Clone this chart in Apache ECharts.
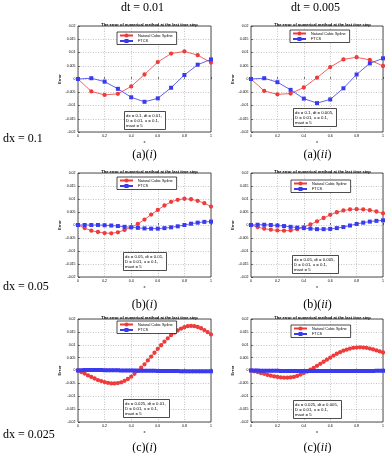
<!DOCTYPE html>
<html>
<head>
<meta charset="utf-8">
<script src="https://cdn.jsdelivr.net/npm/echarts@6/dist/echarts.min.js"></script>
<style>
html, body { margin: 0; padding: 0; background: #fff; }
#chart { width: 387px; height: 453px; }
</style>
</head>
<body>
<div id="chart"></div>
<script>
// grid points in x
var xCoarse = [0, 0.1, 0.2, 0.3, 0.4, 0.5, 0.6, 0.7, 0.8, 0.9, 1];
var xMid = [0, 0.05, 0.1, 0.15, 0.2, 0.25, 0.3, 0.35, 0.4, 0.45, 0.5,
	0.55, 0.6, 0.65, 0.7, 0.75, 0.8, 0.85, 0.9, 0.95, 1];
var xFine = [0, 0.025, 0.05, 0.075, 0.1, 0.125, 0.15, 0.175, 0.2, 0.225,
	0.25, 0.275, 0.3, 0.325, 0.35, 0.375, 0.4, 0.425, 0.45, 0.475,
	0.5, 0.525, 0.55, 0.575, 0.6, 0.625, 0.65, 0.675, 0.7, 0.725,
	0.75, 0.775, 0.8, 0.825, 0.85, 0.875, 0.9, 0.925, 0.95, 0.975, 1];

// dx = 0.1
var ncsA1 = [0, -0.0047, -0.006, -0.0056, -0.0028, 0.0017, 0.0064, 0.0096, 0.0104, 0.009, 0.0062];
var ftcsA1 = [0, 0.0003, -0.001, -0.0037, -0.0069, -0.0086, -0.0073, -0.0033, 0.0015, 0.0054, 0.0074];
var ncsA2 = [0, -0.0045, -0.0058, -0.0055, -0.0032, 0.0005, 0.0045, 0.0074, 0.0082, 0.0072, 0.0049];
var ftcsA2 = [0, 0.0003, -0.0012, -0.0041, -0.0074, -0.0091, -0.0077, -0.0035, 0.0017, 0.0059, 0.0078];

// dx = 0.05
var ncsB1 = [0, -0.0012, -0.0022, -0.0027, -0.0031, -0.0032, -0.0028, -0.0019, -0.0009, 0.0004, 0.0021,
	0.004, 0.0058, 0.0075, 0.0089, 0.0097, 0.0101, 0.0099, 0.0093, 0.0084, 0.0071];
var ftcsB1 = [0, 0, 0, 0, -0.0001, -0.0002, -0.0004, -0.0007, -0.0009, -0.0011, -0.0013,
	-0.0014, -0.0014, -0.0012, -0.0009, -0.0005, 0, 0.0005, 0.0009, 0.0012, 0.0013];
var ncsB2 = [0, -0.0008, -0.0014, -0.0018, -0.0021, -0.0022, -0.0021, -0.0016, -0.0008, 0.0002, 0.0014,
	0.0027, 0.0039, 0.0049, 0.0056, 0.006, 0.0061, 0.006, 0.0057, 0.0052, 0.0045];
var ftcsB2 = [0, 0.0001, 0.0001, 0, -0.0002, -0.0004, -0.0007, -0.001, -0.0012, -0.0014, -0.0016,
	-0.0016, -0.0015, -0.0012, -0.0008, -0.0002, 0.0004, 0.0009, 0.0013, 0.0016, 0.0018];

// dx = 0.025
var ncsC1 = [0, -0.0006, -0.0012, -0.0019, -0.0025, -0.0031, -0.0037, -0.0041, -0.0045, -0.0048,
	-0.005, -0.005, -0.0049, -0.0046, -0.004, -0.0033, -0.0024, -0.0013, -0.0001, 0.0011,
	0.0024, 0.0039, 0.0054, 0.0069, 0.0084, 0.0098, 0.0112, 0.0125, 0.0137, 0.0147,
	0.0156, 0.0163, 0.0168, 0.0172, 0.0173, 0.0172, 0.0169, 0.0164, 0.0157, 0.0149, 0.014];
var ftcsC1 = [0, 0.0001, 0.0002, 0.0002, 0.0002, 0.0002, 0.0002, 0.0002, 0.0001, 0.0001,
	0.0001, 0.0001, 0.0001, 0, 0, 0, 0, 0, -0.0001, -0.0001,
	-0.0001, -0.0001, -0.0001, -0.0001, -0.0002, -0.0002, -0.0002, -0.0002, -0.0002, -0.0002,
	-0.0002, -0.0003, -0.0003, -0.0003, -0.0003, -0.0003, -0.0003, -0.0003, -0.0003, -0.0003, -0.0003];
var ncsC2 = [0, -0.0003, -0.0006, -0.001, -0.0013, -0.0017, -0.002, -0.0023, -0.0025, -0.0027,
	-0.0028, -0.0028, -0.0027, -0.0025, -0.0021, -0.0016, -0.001, -0.0004, 0.0003, 0.001,
	0.0018, 0.0026, 0.0034, 0.0042, 0.005, 0.0058, 0.0065, 0.0071, 0.0077, 0.0081,
	0.0085, 0.0088, 0.0089, 0.009, 0.0089, 0.0088, 0.0085, 0.0082, 0.0078, 0.0074, 0.007];
var ftcsC2 = [0, 0, 0, -0.0001, -0.0001, -0.0001, -0.0001, -0.0001, -0.0001, -0.0002,
	-0.0002, -0.0002, -0.0002, -0.0002, -0.0002, -0.0002, -0.0002, -0.0002, -0.0002, -0.0002,
	-0.0002, -0.0002, -0.0002, -0.0002, -0.0002, -0.0002, -0.0002, -0.0002, -0.0002, -0.0002,
	-0.0002, -0.0002, -0.0002, -0.0002, -0.0002, -0.0002, -0.0002, -0.0002, -0.0001, -0.0001, -0.0001];

var seriesNames = ["Natural Cubic Spline", "FTCS"];
var plotTitle = "The error of numerical method at the last time step";
var dxLabels = ["0.1", "0.05", "0.025"];
var dtLabels = ["0.01", "0.005"];
var captionRows = ["a", "b", "c"];
var captionCols = ["i", "ii"];

function drawErrorGrid() {
	var panels = [
		{ row: 0, col: 0, x: xCoarse, ncs: ncsA1, ftcs: ftcsA1 },
		{ row: 0, col: 1, x: xCoarse, ncs: ncsA2, ftcs: ftcsA2 },
		{ row: 1, col: 0, x: xMid, ncs: ncsB1, ftcs: ftcsB1 },
		{ row: 1, col: 1, x: xMid, ncs: ncsB2, ftcs: ftcsB2 },
		{ row: 2, col: 0, x: xFine, ncs: ncsC1, ftcs: ftcsC1 },
		{ row: 2, col: 1, x: xFine, ncs: ncsC2, ftcs: ftcsC2 }
	];

	// layout (pixels)
	var gridLeft = [78, 251];
	var gridTop = [26, 173, 319];
	var gridH = [106, 104, 103];
	var gridW = 133;
	var legendPos = [[117, 32], [290, 30], [117, 177], [291, 180], [117, 321], [291, 325]];
	var boxPos = [[124, 111], [293, 108], [123, 252], [292, 255], [123, 399], [293, 400]];
	var captionY = [155, 305, 448];
	var dxY = [139, 287, 435];

	var RED = '#ee3a3a', BLUE = '#3a3aee';
	var FONT = 'Liberation Sans';
	var SERIF = 'Liberation Serif';

	function zip(xs, ys) {
		var out = [];
		for (var k = 0; k < xs.length; k++) out.push([xs[k], ys[k]]);
		return out;
	}

	var option = {
		animation: false,
		backgroundColor: '#fff',
		textStyle: { fontFamily: FONT },
		title: [], grid: [], xAxis: [], yAxis: [], legend: [], series: [], graphic: []
	};

	for (var i = 0; i < panels.length; i++) {
		var p = panels[i];
		var gl = gridLeft[p.col], gt = gridTop[p.row], gh = gridH[p.row];
		option.grid.push({
			left: gl, top: gt, width: gridW, height: gh,
			show: true, borderColor: '#000', borderWidth: 0.7, backgroundColor: '#fff'
		});
		option.xAxis.push({
			gridIndex: i, type: 'value', min: 0, max: 1, interval: 0.2,
			name: 'x', nameLocation: 'middle', nameGap: 8,
			nameTextStyle: { fontSize: 4, color: '#000' },
			axisLine: { show: false },
			axisTick: { inside: true, length: 2, lineStyle: { color: '#000', width: 0.5 } },
			axisLabel: { fontSize: 3.5, margin: 2.5, color: '#000' },
			splitLine: { show: true, lineStyle: { type: [1, 1.5], color: '#888', width: 0.5 } }
		});
		option.yAxis.push({
			gridIndex: i, type: 'value', min: -0.02, max: 0.02, interval: 0.005,
			name: 'Error', nameLocation: 'middle', nameGap: 13,
			nameTextStyle: { fontSize: 4, color: '#000', fontWeight: 'bold' },
			axisLine: { show: false },
			axisTick: { inside: true, length: 2, lineStyle: { color: '#000', width: 0.5 } },
			axisLabel: { fontSize: 3.5, margin: 2.5, color: '#000' },
			splitLine: { show: true, lineStyle: { type: [1, 1.5], color: '#888', width: 0.5 } }
		});
		option.title.push({
			text: plotTitle, left: gl + gridW / 2, top: gt - 8, textAlign: 'center',
			textStyle: { fontSize: 4, fontWeight: 'bold', color: '#000', fontFamily: FONT }
		});
		option.title.push({
			text: 'dx = ' + dxLabels[p.row] + ', dt = ' + dtLabels[p.col] + ',\nD = 0.01, u = 0.1,\nmaxt = 5',
			left: boxPos[i][0], top: boxPos[i][1],
			borderColor: '#000', borderWidth: 0.7, backgroundColor: '#fff',
			padding: [2, 4, 2, 2],
			textStyle: { fontSize: 4.3, fontWeight: 'normal', color: '#000', lineHeight: 5, fontFamily: FONT }
		});
		option.legend.push({
			left: legendPos[i][0], top: legendPos[i][1], orient: 'vertical',
			data: seriesNames, selectedMode: false,
			borderColor: '#000', borderWidth: 0.7, backgroundColor: '#fff',
			padding: [1.5, 4, 1.5, 2], itemGap: 1.5, itemWidth: 13, itemHeight: 2.5,
			textStyle: { fontSize: 3.8, color: '#000' }
		});
		option.series.push({
			type: 'line', name: seriesNames[0], xAxisIndex: i, yAxisIndex: i,
			data: zip(p.x, p.ncs), symbol: 'emptyCircle', symbolSize: 2.3,
			lineStyle: { color: RED, width: 0.8 },
			itemStyle: { color: RED, borderColor: RED, borderWidth: 0.5 }
		});
		option.series.push({
			type: 'line', name: seriesNames[1], xAxisIndex: i, yAxisIndex: i,
			data: zip(p.x, p.ftcs), symbol: 'emptyRect', symbolSize: 2,
			lineStyle: { color: BLUE, width: 0.8 },
			itemStyle: { color: BLUE, borderColor: BLUE, borderWidth: 0.5 }
		});
		option.graphic.push({
			type: 'text', x: gl + gridW / 2, y: captionY[p.row],
			style: {
				text: '(' + captionRows[p.row] + ')({it|' + captionCols[p.col] + '})',
				rich: { it: { fontStyle: 'italic', fontFamily: SERIF, fontSize: 12 } },
				fontFamily: SERIF, fontSize: 12, fill: '#000',
				align: 'center', verticalAlign: 'middle'
			}
		});
	}

	for (var c = 0; c < dtLabels.length; c++) {
		option.graphic.push({
			type: 'text', x: gridLeft[c] + gridW / 2 - 2, y: 8,
			style: { text: 'dt = ' + dtLabels[c], fontFamily: SERIF, fontSize: 12, fill: '#000', align: 'center', verticalAlign: 'middle' }
		});
	}
	for (var r = 0; r < dxLabels.length; r++) {
		option.graphic.push({
			type: 'text', x: 3, y: dxY[r],
			style: { text: 'dx = ' + dxLabels[r], fontFamily: SERIF, fontSize: 12, fill: '#000', align: 'left', verticalAlign: 'middle' }
		});
	}

	var myChart = echarts.init(document.getElementById('chart'));
	myChart.setOption(option);
}

drawErrorGrid();
</script>
</body>
</html>
